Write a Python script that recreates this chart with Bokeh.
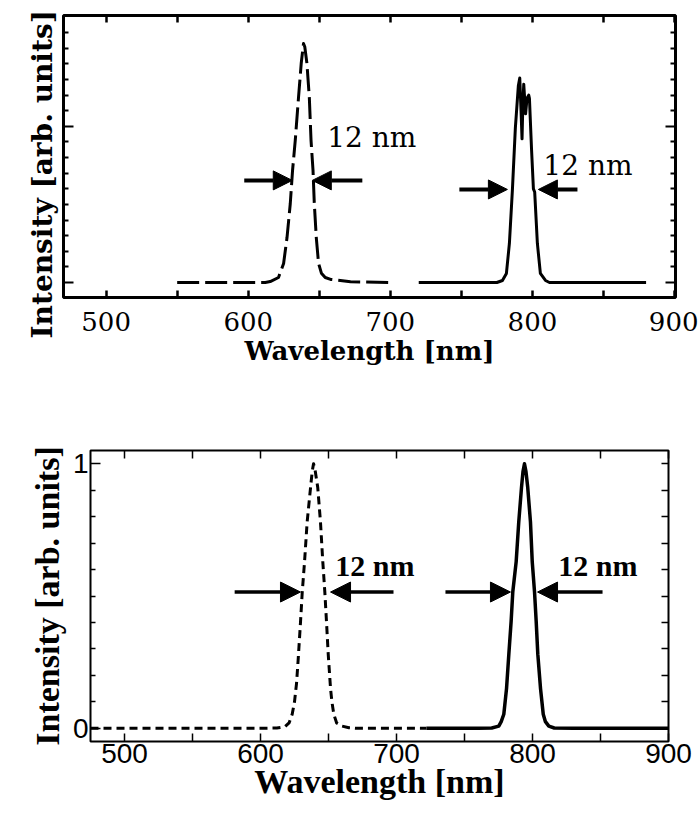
from bokeh.plotting import figure
from bokeh.models import Range1d, FixedTicker, LinearAxis, Arrow, NormalHead, Label, Title
from bokeh.embed import file_html
from bokeh.resources import INLINE

# ---------------- data ----------------
x_tick_values = [500, 600, 700, 800, 900]
x_minor_values = [450, 550, 650, 750, 850]

# top panel (measured spectra), intensity in tick units (baseline 0, major tick 10)
top_dashed_nm = [550, 600, 612, 615.5, 621.3, 624.9, 627.3, 629.6, 631.2, 633.1, 635.4,
                 637.3, 638.9, 639.8, 641.3, 643.0, 644.2, 645.6, 646.5, 647.9, 649.5,
                 651.5, 654.2, 658, 664.8, 672, 700]
top_dashed_int = [0, 0, 0, 0.06, 0.32, 1.22, 2.88, 5.06, 7.18, 9.1, 11.86,
                  14.04, 15.3, 15.1, 14.04, 11.86, 9.1, 7.18, 5.06, 2.88, 1.22,
                  0.6, 0.32, 0.2, 0.13, 0.05, 0]
top_solid_nm = [720, 760, 775, 778.9, 781.7, 783.8, 785.9, 788.0, 790.1, 791.1, 792.0,
                792.7, 793.3, 793.9, 795.2, 796.2, 797.4, 797.9, 799.4, 800.7, 801.6,
                803.5, 805.6, 809.2, 812, 880]
top_solid_int = [0, 0, 0, 0.13, 0.58, 2.5, 5.9, 9.9, 12.6, 13.1, 11.0,
                 9.2, 11.5, 12.7, 10.8, 11.8, 12.0, 11.8, 8.5, 6.0, 5.8,
                 2.5, 0.58, 0.13, 0, 0]
top_y_major = [0, 10]
top_y_minor = [1, 2, 3, 4, 5, 6, 7, 8, 9, 11, 12, 13, 14, 15, 16]

# bottom panel (normalised spectra)
bot_dashed_nm = [475, 550, 600, 612, 618, 621, 623.3, 625, 626.5, 627.7, 629.4, 630.7,
                 632.4, 634.3, 636.8, 638, 639, 640, 642.1, 644.1, 645.8, 647.3, 648.5,
                 649.8, 651.5, 652.5, 653.9, 656, 660, 665, 670, 722]
bot_dashed_int = [0, 0, 0, 0.001, 0.006, 0.02, 0.053, 0.1, 0.17, 0.26, 0.40, 0.515,
                  0.63, 0.78, 0.91, 0.97, 1.0, 0.98, 0.91, 0.78, 0.63, 0.515, 0.405,
                  0.28, 0.15, 0.1, 0.053, 0.02, 0.008, 0.002, 0, 0]
bot_solid_nm = [722, 760, 770, 775.2, 777, 778.9, 780.9, 782.6, 784.3, 785.5, 788.0,
                789.9, 791.9, 793, 794.1, 795.2, 796.5, 798.5, 799.8, 801.5, 802.7,
                803.9, 805.9, 807.9, 809.5, 812.0, 816, 830, 900]
bot_solid_int = [0, 0, 0.001, 0.008, 0.025, 0.053, 0.15, 0.28, 0.405, 0.515, 0.63,
                 0.78, 0.91, 0.97, 1.0, 0.97, 0.91, 0.78, 0.63, 0.515, 0.405,
                 0.28, 0.15, 0.053, 0.025, 0.008, 0.001, 0, 0]
bot_y_major = [0, 1]
bot_y_minor = [0.1, 0.2, 0.3, 0.4, 0.5, 0.6, 0.7, 0.8, 0.9]

x_title = "Wavelength [nm]"
y_title = "Intensity [arb. units]"
fwhm_label = "12 nm"


def blank(ticks):
    return {t: "" for t in ticks}


def style_axis(ax, major_in, minor_in, width):
    ax.axis_line_color = None
    ax.major_tick_in = major_in
    ax.major_tick_out = 0
    ax.minor_tick_in = minor_in
    ax.minor_tick_out = 0
    ax.major_tick_line_color = "black"
    ax.minor_tick_line_color = "black"
    ax.major_tick_line_width = width
    ax.minor_tick_line_width = width
    ax.major_label_text_color = "black"
    ax.axis_label_text_color = "black"


def base_fig(width, height, xr, yr, borders):
    p = figure(width=width, height=height, x_range=Range1d(*xr), y_range=Range1d(*yr),
               output_backend="svg", toolbar_location=None,
               min_border_left=borders[0], min_border_right=borders[1],
               min_border_top=borders[2], min_border_bottom=borders[3])
    p.xgrid.visible = False
    p.ygrid.visible = False
    p.background_fill_color = "white"
    p.border_fill_color = "white"
    return p


# ---------------- top panel ----------------
SERIF = "DejaVu Serif"
p1 = base_fig(698, 380, (470, 900.7), (-0.96, 17.1), (63, 23, 15, 83))
p1.outline_line_color = "black"
p1.outline_line_width = 3

xa = p1.xaxis[0]
xa.ticker = FixedTicker(ticks=x_tick_values, minor_ticks=x_minor_values)
style_axis(xa, 7, 7, 2.5)
xa.axis_label = x_title
xa.axis_label_text_font = SERIF
xa.axis_label_text_font_style = "bold"
xa.axis_label_text_font_size = "26px"
xa.axis_label_standoff = 2
xa.major_label_text_font = SERIF
xa.major_label_text_font_size = "26px"
xa.major_label_standoff = 14

ya = p1.yaxis[0]
ya.ticker = FixedTicker(ticks=top_y_major, minor_ticks=top_y_minor)
style_axis(ya, 10, 5, 2)
ya.major_label_overrides = blank(top_y_major)
ya.major_label_standoff = -8

# y title of the top panel: starts a little below the frame bottom, as in the picture
p1.add_layout(Title(text=y_title, align="left", offset=-41, standoff=10,
                    text_font=SERIF, text_font_style="bold", text_font_size="28px",
                    text_color="black"), "left")

ra = LinearAxis(ticker=FixedTicker(ticks=top_y_major, minor_ticks=top_y_minor),
                major_label_overrides=blank(top_y_major), major_label_standoff=0)
style_axis(ra, 10, 5, 2)
p1.add_layout(ra, "right")
ta = LinearAxis(ticker=FixedTicker(ticks=x_tick_values, minor_ticks=x_minor_values),
                major_label_overrides=blank(x_tick_values), major_label_standoff=0)
style_axis(ta, 7, 7, 2.5)
p1.add_layout(ta, "above")

p1.line(top_dashed_nm, top_dashed_int, line_color="black", line_width=3,
        line_dash="22 6", line_join="round")
p1.line(top_solid_nm, top_solid_int, line_color="black", line_width=3, line_join="round")

for xs, xe, yy in [(597.2, 631.0, 6.54), (680.3, 645.1, 6.54),
                   (748.6, 782.4, 5.96), (831.7, 804.2, 5.96)]:
    p1.add_layout(Arrow(end=NormalHead(size=19, fill_color="black", line_color="black"),
                        x_start=xs, y_start=yy, x_end=xe, y_end=yy,
                        line_color="black", line_width=4))
for lx, ly in [(655.6, 9.3), (807.7, 7.5)]:
    p1.add_layout(Label(x=lx, y=ly, text=fwhm_label, text_font=SERIF,
                        text_font_size="28px", text_color="black",
                        text_baseline="alphabetic", text_align="left"))

# ---------------- bottom panel ----------------
TIMES = "Liberation Serif"
SANS = "Liberation Sans"
p2 = base_fig(698, 428, (475, 900), (-0.05, 1.05), (90, 30, 70, 67))
p2.outline_line_color = "black"
p2.outline_line_width = 2

xb = p2.xaxis[0]
xb.ticker = FixedTicker(ticks=x_tick_values, minor_ticks=x_minor_values)
style_axis(xb, 8, 8, 1.5)
xb.axis_label = x_title
xb.axis_label_text_font = TIMES
xb.axis_label_text_font_style = "bold"
xb.axis_label_text_font_size = "34px"
xb.axis_label_standoff = -3
xb.major_label_text_font = SANS
xb.major_label_text_font_size = "28px"
xb.major_label_standoff = 2

yb = p2.yaxis[0]
yb.ticker = FixedTicker(ticks=bot_y_major, minor_ticks=bot_y_minor)
style_axis(yb, 10, 5, 1.5)
yb.axis_label = y_title
yb.axis_label_text_font = TIMES
yb.axis_label_text_font_style = "bold"
yb.axis_label_text_font_size = "34px"
yb.axis_label_standoff = 4
yb.major_label_text_font = SANS
yb.major_label_text_font_size = "28px"
yb.major_label_standoff = 2

rb = LinearAxis(ticker=FixedTicker(ticks=bot_y_major, minor_ticks=bot_y_minor),
                major_label_overrides=blank(bot_y_major), major_label_standoff=0)
style_axis(rb, 7, 7, 1.5)
p2.add_layout(rb, "right")
tb = LinearAxis(ticker=FixedTicker(ticks=x_tick_values, minor_ticks=x_minor_values),
                major_label_overrides=blank(x_tick_values), major_label_standoff=0)
style_axis(tb, 8, 8, 1.5)
p2.add_layout(tb, "above")

p2.line(bot_dashed_nm, bot_dashed_int, line_color="black", line_width=3,
        line_dash="8 5", line_join="round")
p2.line(bot_solid_nm, bot_solid_int, line_color="black", line_width=3.5, line_join="round")

for xs, xe in [(581, 629.4), (697.8, 651.5), (736, 783.8), (851.5, 803.7)]:
    p2.add_layout(Arrow(end=NormalHead(size=20, fill_color="black", line_color="black"),
                        x_start=xs, y_start=0.515, x_end=xe, y_end=0.515,
                        line_color="black", line_width=3.5))
for lx in [655, 819]:
    p2.add_layout(Label(x=lx, y=0.614, text=fwhm_label, text_font=TIMES,
                        text_font_style="bold", text_font_size="30px", text_color="black",
                        text_baseline="alphabetic", text_align="left"))

open("out.html", "w").write(file_html([p1, p2], INLINE))
